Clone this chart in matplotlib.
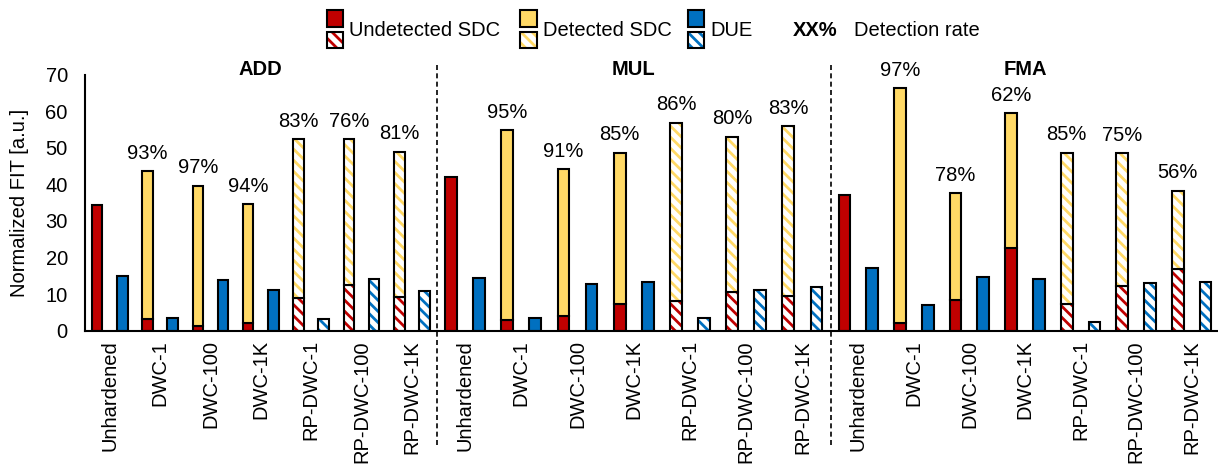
import matplotlib.pyplot as plt
from matplotlib.patches import Rectangle
import numpy as np

plt.rcParams['font.family'] = ['Liberation Sans', 'DejaVu Sans']
plt.rcParams['hatch.linewidth'] = 2.0

configs = ['Unhardened', 'DWC-1', 'DWC-100', 'DWC-1K', 'RP-DWC-1', 'RP-DWC-100', 'RP-DWC-1K']
ops = ['ADD', 'MUL', 'FMA']

# total SDC FIT (undetected + detected) per configuration
add_sdc = [34.3, 43.6, 39.7, 34.7, 52.4, 52.4, 49.0]
mul_sdc = [42.1, 54.8, 44.2, 48.7, 56.9, 53.1, 56.0]
fma_sdc = [37.1, 66.4, 37.6, 59.6, 48.7, 48.5, 38.3]

# detection rate in percent (unhardened has no detection)
add_rate = [0, 93, 97, 94, 83, 76, 81]
mul_rate = [0, 95, 91, 85, 86, 80, 83]
fma_rate = [0, 97, 78, 62, 85, 75, 56]

# DUE FIT
add_due = [14.8, 3.5, 13.7, 11.0, 3.2, 14.0, 10.8]
mul_due = [14.3, 3.5, 12.8, 13.3, 3.3, 11.0, 11.8]
fma_due = [17.0, 7.1, 14.7, 14.0, 2.2, 13.0, 13.2]

sdc_all = [add_sdc, mul_sdc, fma_sdc]
rate_all = [add_rate, mul_rate, fma_rate]
due_all = [add_due, mul_due, fma_due]

red = '#C00000'
yellow = '#FFD966'
blue = '#0070C0'
hatch = '\\\\\\'
fs = 14.5
bw = 0.42

W, H = 1218, 466
fig = plt.figure(figsize=(W / 100, H / 100), dpi=100)

# pixel extents of the three panels
spans = [(84.5, 437), (437, 830.5), (830.5, 1219.5)]
bottom_px, top_px = 330.5, 75


def draw_bar(ax, x, bottom, height, color, hatched):
    if hatched:
        ax.bar(x, height, bw, bottom=bottom, color='white', edgecolor=color,
               hatch=hatch, linewidth=0)
        ax.bar(x, height, bw, bottom=bottom, fill=False, edgecolor='black', linewidth=1.5)
    else:
        ax.bar(x, height, bw, bottom=bottom, color=color, edgecolor='black', linewidth=1.5)


for i, op in enumerate(ops):
    left, right = spans[i]
    ax = fig.add_axes([left / W, 1 - bottom_px / H, (right - left) / W, (bottom_px - top_px) / H])
    sdc = np.array(sdc_all[i])
    rate = np.array(rate_all[i])
    und = sdc * (1 - rate / 100)
    det = sdc - und

    for k, cfg in enumerate(configs):
        hatched = cfg.startswith('RP-')
        xs = 2 * k
        draw_bar(ax, xs, 0, und[k], red, hatched)
        if det[k] > 0:
            draw_bar(ax, xs, und[k], det[k], yellow, hatched)
        draw_bar(ax, xs + 1, 0, due_all[i][k], blue, hatched)
        if rate[k] > 0:
            ax.annotate(f'{rate[k]}%', (xs, sdc[k]), xytext=(0, 6), textcoords='offset points',
                        ha='center', va='bottom', fontsize=fs, annotation_clip=False)

    ax.set_xlim(-0.5, 13.5)
    ax.set_ylim(0, 70)
    ax.set_xticks(np.arange(7) * 2 + 0.5)
    ax.set_xticklabels(configs, rotation=90, fontsize=fs)
    ax.tick_params(axis='x', length=0, pad=7)
    ax.spines['top'].set_visible(False)
    ax.spines['right'].set_visible(False)
    ax.spines['bottom'].set_linewidth(1.5)
    ax.text(6.5, 71.6, op, ha='center', va='center', fontsize=fs, fontweight='bold', clip_on=False)
    ax.patch.set_visible(False)
    if i == 0:
        ax.set_yticks(np.arange(0, 71, 10))
        ax.tick_params(axis='y', length=0, pad=12, labelsize=fs)
        ax.spines['left'].set_linewidth(1.5)
        ax.set_ylabel('Normalized FIT [a.u.]', fontsize=fs, labelpad=12)
    else:
        ax.spines['left'].set_visible(False)
        ax.set_yticks([])

# overlay in pixel units for the separators and the legend
ov = fig.add_axes([0, 0, 1, 1])
ov.set_xlim(0, W)
ov.set_ylim(H, 0)
ov.axis('off')

for x in [spans[0][1], spans[1][1]]:
    ov.plot([x, x], [65, 448], color='black', linewidth=1.2, linestyle=(0, (3, 2)))

legend_items = [(326.7, red, 'Undetected SDC'), (520, yellow, 'Detected SDC'), (687.7, blue, 'DUE')]
size = 16.6
for x, color, label in legend_items:
    ov.add_patch(Rectangle((x, 10), size, size, facecolor=color, edgecolor='black', linewidth=1.5))
    ov.add_patch(Rectangle((x, 31.7), size, size, facecolor='white', edgecolor=color,
                           hatch=hatch, linewidth=0))
    ov.add_patch(Rectangle((x, 31.7), size, size, fill=False, edgecolor='black', linewidth=1.5))
    ov.text(x + size + 6, 36.5, label, ha='left', va='baseline', fontsize=fs)

ov.text(793, 36.5, 'XX%', ha='left', va='baseline', fontsize=fs, fontweight='bold')
ov.text(854, 36.5, 'Detection rate', ha='left', va='baseline', fontsize=fs)

fig.savefig('out.png', dpi=100)
